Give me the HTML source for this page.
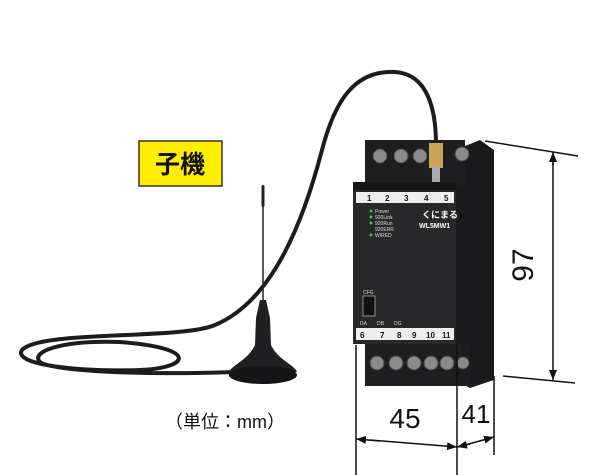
<!DOCTYPE html>
<html><head><meta charset="utf-8"><style>
html,body{margin:0;padding:0;background:#fff;}
svg{display:block;font-family:"Liberation Sans","Noto Sans CJK JP",sans-serif;}
</style></head><body>
<svg width="600" height="475" viewBox="0 0 600 475" xmlns="http://www.w3.org/2000/svg">
<defs>
<marker id="ar" markerWidth="10" markerHeight="8" refX="10" refY="4" orient="auto" markerUnits="userSpaceOnUse"><path d="M0,0 L10,4 L0,8 Z" fill="#111"/></marker>
</defs>
<!-- cable -->
<path d="M436,145 C436,110 428,74 395,72 C355,70 335,100 322,150 C305,215 275,300 215,325 C180,340 40,330 22,350 C12,365 80,372 140,370 C190,368 200,348 120,342 C60,340 30,352 40,362 C55,372 150,375 235,372" fill="none" stroke="#1c1c1e" stroke-width="4"/>
<!-- antenna -->
<rect x="261.5" y="185" width="3" height="22" rx="1.5" fill="#222"/>
<line x1="263" y1="200" x2="263" y2="300" stroke="#222" stroke-width="1.5"/>
<path d="M260,300 L266,300 L270,318 L271,345 C278,360 295,365 297,372 L229,372 C232,365 248,360 255,345 L256,318 Z" fill="#202022"/>
<ellipse cx="263" cy="375" rx="34" ry="9" fill="#151517"/>
<!-- label -->
<rect x="139" y="141" width="83" height="45" fill="#ffee00" stroke="#333" stroke-width="1.5"/>
<text x="180" y="173" font-size="25" font-weight="bold" text-anchor="middle" fill="#111">子機</text>
<!-- device side -->
<path d="M455,150 L480,140 L494,150 L494,380 L470,388 L455,380 Z" fill="#1a1a1c"/>
<!-- top terminals -->
<rect x="365" y="140" width="100" height="45" fill="#1e1e20"/>
<g fill="#8a8a8a" stroke="#444">
<circle cx="380" cy="156" r="7"/><circle cx="401" cy="156" r="7"/><circle cx="420" cy="156" r="7"/><circle cx="462" cy="154" r="7"/>
</g>
<rect x="429" y="143" width="14" height="25" fill="#c9a55a"/>
<rect x="432" y="166" width="8" height="16" fill="#aaa"/>
<!-- front face -->
<rect x="353" y="182" width="103" height="162" fill="#28282a"/>
<rect x="353" y="182" width="103" height="8" fill="#151515"/>
<rect x="356" y="192" width="98" height="11" fill="#eee"/>
<g font-size="8" font-weight="bold" fill="#111"><text x="367" y="201">1</text><text x="385" y="201">2</text><text x="404" y="201">3</text><text x="424" y="201">4</text><text x="444" y="201">5</text></g>
<g fill="#3c3" ><circle cx="371" cy="211" r="1.5"/><circle cx="371" cy="217" r="1.5"/><circle cx="371" cy="223" r="1.5"/><circle cx="371" cy="235" r="1.5"/></g>
<g font-size="5" fill="#ddd"><text x="375" y="213">Power</text><text x="375" y="219">920Link</text><text x="375" y="225">920Run</text><text x="375" y="231">920ERR</text><text x="375" y="237">WIRED</text></g>
<text x="422" y="218" font-size="9" fill="#fff" font-weight="bold">くにまる</text>
<text x="419" y="228" font-size="7" fill="#fff" font-weight="bold">WL5MW1</text>
<rect x="363" y="296" width="12" height="20" fill="#111" stroke="#aaa" stroke-width="0.8"/>
<g font-size="5" fill="#ddd"><text x="363" y="294">CFG</text><text x="360" y="325">DA</text><text x="377" y="325">DB</text><text x="394" y="325">DG</text></g>
<rect x="356" y="328" width="98" height="12" fill="#eee"/>
<g font-size="8" font-weight="bold" fill="#111"><text x="360" y="338">6</text><text x="380" y="338">7</text><text x="397" y="338">8</text><text x="412" y="338">9</text><text x="426" y="338">10</text><text x="442" y="338">11</text></g>
<!-- bottom terminals -->
<rect x="365" y="344" width="105" height="42" fill="#1e1e20"/>
<g fill="#8a8a8a" stroke="#444">
<circle cx="377" cy="363" r="7"/><circle cx="396" cy="363" r="7"/><circle cx="414" cy="363" r="7"/><circle cx="431" cy="363" r="7"/><circle cx="447" cy="363" r="7"/><circle cx="463" cy="363" r="6"/>
</g>
<!-- dimensions -->
<g stroke="#111" stroke-width="1.5" fill="none">
<line x1="485" y1="141" x2="578" y2="156"/>
<line x1="503" y1="376" x2="575" y2="383"/>
<line x1="553" y1="165" x2="553" y2="152" marker-end="url(#ar)"/>
<line x1="553" y1="160" x2="553" y2="380" marker-end="url(#ar)"/>
<line x1="356" y1="345" x2="356" y2="475"/>
<line x1="457" y1="345" x2="457" y2="475"/>
<line x1="494" y1="376" x2="494" y2="455"/>
<line x1="380" y1="441" x2="356" y2="439" marker-end="url(#ar)"/>
<line x1="370" y1="440" x2="457" y2="447" marker-end="url(#ar)"/>
<line x1="470" y1="444" x2="457" y2="447" marker-end="url(#ar)"/>
<line x1="465" y1="445" x2="494" y2="437" marker-end="url(#ar)"/>
</g>
<text x="0" y="0" font-size="30" fill="#111" text-anchor="middle" transform="translate(533,265) rotate(-90)">97</text>
<text x="405" y="428" font-size="28" fill="#111" text-anchor="middle">45</text>
<text x="476" y="423" font-size="26" fill="#111" text-anchor="middle">41</text>
<text x="165" y="428" font-size="18" fill="#111">（単位：mm）</text>
</svg>
</body></html>
